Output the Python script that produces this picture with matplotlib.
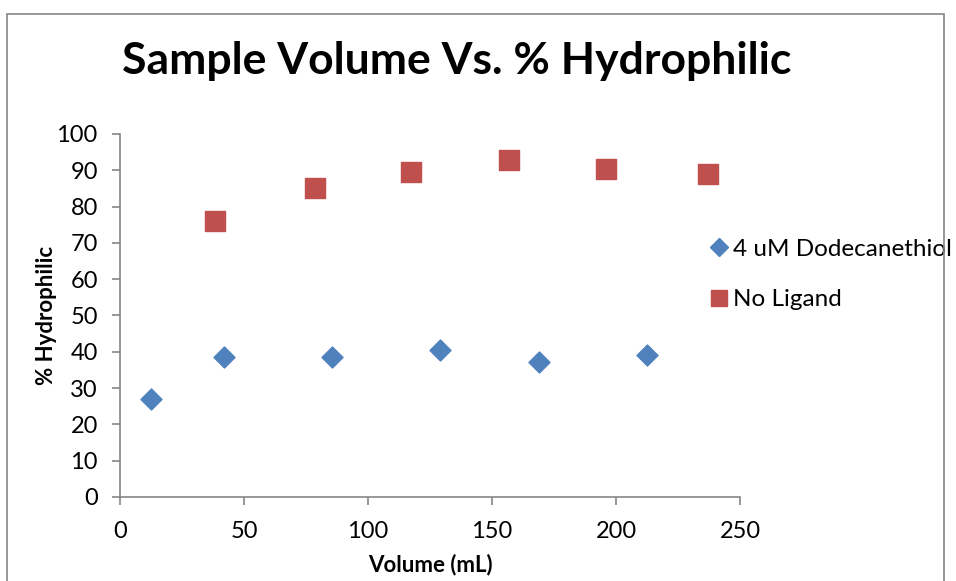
import matplotlib.pyplot as plt
from matplotlib.lines import Line2D
from matplotlib.patches import Rectangle

# --- Data ---
dodecanethiol_x = [12.5, 42, 85.5, 129, 169, 212.5]
dodecanethiol_y = [27.0, 38.6, 38.6, 40.4, 37.2, 39.1]

no_ligand_x = [38.3, 78.6, 117.3, 156.9, 196, 237]
no_ligand_y = [76.0, 85.1, 89.5, 92.8, 90.4, 89.0]

x_ticks = [0, 50, 100, 150, 200, 250]
y_ticks = [0, 10, 20, 30, 40, 50, 60, 70, 80, 90, 100]

plt.rcParams['font.family'] = ['Lato', 'DejaVu Sans']
axis_grey = '#868686'
blue = '#4F81BD'
red = '#C0504D'

fig = plt.figure(figsize=(9.56, 5.81), dpi=100)
ax = fig.add_axes([0.1255, 0.1446, 0.6485, 0.6248])

ax.scatter(dodecanethiol_x, dodecanethiol_y, marker='D', s=114, color=blue, zorder=3)
ax.scatter(no_ligand_x, no_ligand_y, marker='s', s=207, color=red, zorder=3)

ax.set_xlim(0, 250)
ax.set_ylim(0, 100)
ax.set_xticks(x_ticks)
ax.set_yticks(y_ticks)
ax.tick_params(labelsize=17, color=axis_grey, length=6, width=1.2)
ax.tick_params(axis='x', pad=11)
ax.tick_params(axis='y', pad=10)

for side in ['top', 'right']:
    ax.spines[side].set_visible(False)
for side in ['left', 'bottom']:
    ax.spines[side].set_color(axis_grey)
    ax.spines[side].set_linewidth(1.2)

ax.set_xlabel('Volume (mL)', fontsize=16, fontweight='bold', labelpad=9)
ax.set_ylabel('% Hydrophilic', fontsize=16, fontweight='bold', labelpad=0)

fig.text(0.478, 0.895, 'Sample Volume Vs. % Hydrophilic', fontsize=32,
         fontweight='bold', ha='center', va='center')

handles = [
    Line2D([], [], linestyle='none', marker='D', markersize=9, color=blue,
           label='4 uM Dodecanethiol'),
    Line2D([], [], linestyle='none', marker='s', markersize=12, color=red,
           label='No Ligand'),
]
ax.legend(handles=handles, loc='center left', bbox_to_anchor=(0.741, 0.5275),
          bbox_transform=fig.transFigure, frameon=False, fontsize=17.5,
          handletextpad=0.1, labelspacing=1.2, handlelength=0.9,
          borderaxespad=0, borderpad=0)

# outer chart border
fig.patches.append(Rectangle((7 / 956, -0.05), 937 / 956, 1.05 - 14 / 581,
                             transform=fig.transFigure, fill=False,
                             edgecolor=axis_grey, linewidth=1.2))

fig.savefig('out.png', dpi=100)
